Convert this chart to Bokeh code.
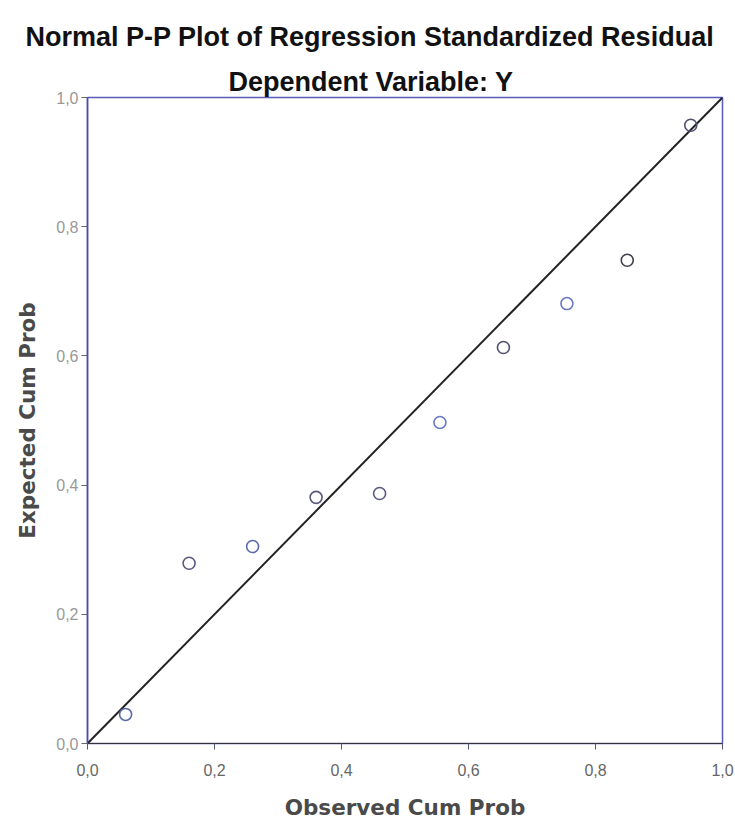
from bokeh.plotting import figure
from bokeh.models import Range1d, FixedTicker, CustomJSTickFormatter, Title
from bokeh.embed import file_html
from bokeh.resources import INLINE

observed = [0.06, 0.16, 0.26, 0.36, 0.46, 0.555, 0.655, 0.755, 0.85, 0.95]
expected = [0.045, 0.279, 0.305, 0.381, 0.387, 0.497, 0.613, 0.681, 0.748, 0.957]
point_colors = ["#5a6aa8", "#5a5a80", "#5a6aa8", "#5a5a80", "#5a5a80",
                "#6a7ac0", "#505070", "#6a7ac0", "#404050", "#505070"]
ref_line = [0.0, 1.0]
ticks = [0.0, 0.2, 0.4, 0.6, 0.8, 1.0]
title_text = "Normal P-P Plot of Regression Standardized Residual"
subtitle_text = "Dependent Variable: Y"

p = figure(width=735, height=823, output_backend="svg", toolbar_location=None,
           x_range=Range1d(0, 1), y_range=Range1d(0, 1), title=None,
           min_border_left=87, min_border_right=13, min_border_bottom=80, min_border_top=97)

p.add_layout(Title(text=subtitle_text, align="left", text_font="Liberation Sans",
                   text_font_size="27px", text_font_style="bold", text_color="#111111",
                   standoff=2, offset=141), "above")
p.add_layout(Title(text=title_text, align="left", text_font="Liberation Sans",
                   text_font_size="27px", text_font_style="bold", text_color="#111111",
                   standoff=24, offset=-62), "above")

p.xgrid.visible = False
p.ygrid.visible = False
p.outline_line_color = "#5a5ab8"
p.outline_line_width = 1.5
p.background_fill_color = "white"
p.border_fill_color = "white"

fmt = CustomJSTickFormatter(code="return tick.toFixed(1).replace('.', ',');")
for ax in (p.xaxis[0], p.yaxis[0]):
    ax.ticker = FixedTicker(ticks=ticks)
    ax.formatter = fmt
    ax.minor_tick_line_color = None
    ax.major_tick_in = 0
    ax.major_tick_out = 6
    ax.major_label_text_font = "Liberation Sans"
    ax.major_label_text_font_size = "16px"
    ax.axis_label_text_font = "DejaVu Sans"
    ax.axis_label_text_font_style = "bold"
    ax.axis_label_text_color = "#4a4a4a"
    ax.axis_label_text_font_size = "21.5px"

p.xaxis.axis_label = "Observed Cum Prob"
p.yaxis.axis_label = "Expected Cum Prob"
p.xaxis.axis_line_color = "#333333"
p.xaxis.major_tick_line_color = "#555577"
p.xaxis.major_label_text_color = "#666666"
p.xaxis.major_label_standoff = 14
p.xaxis.axis_label_standoff = 16
p.yaxis.axis_line_color = "#4a4ab0"
p.yaxis.axis_line_width = 1.5
p.yaxis.major_tick_line_color = "#666666"
p.yaxis.major_label_text_color = "#999999"
p.yaxis.major_label_standoff = 3
p.yaxis.axis_label_standoff = 13

p.line(ref_line, ref_line, line_color="#222222", line_width=2)
p.scatter(observed, expected, marker="circle", size=12, fill_color=None,
          line_color=point_colors, line_width=1.6)

open("out.html", "w").write(file_html(p, INLINE))
